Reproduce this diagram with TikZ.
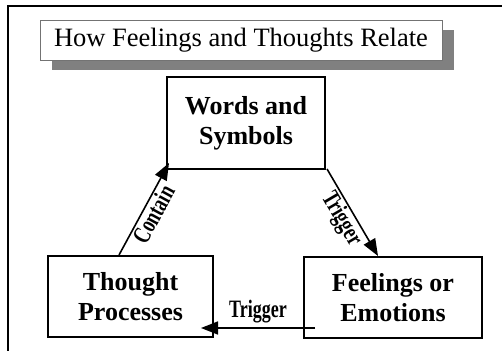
\documentclass[tikz,border=0pt]{standalone}
\usepackage{fontspec}
\setmainfont{Liberation Serif}
\usetikzlibrary{arrows.meta}
\newcommand{\condtxt}[1]{\scalebox{0.72}[1]{#1}}
\tikzset{
  box/.style={draw, line width=2pt, fill=white, align=center, inner sep=0pt,
    font=\fontsize{26}{30}\selectfont\bfseries},
  arr/.style={line width=1.6pt, -{Triangle[length=17pt,width=13pt]}},
  lab/.style={font=\fontsize{25}{27}\selectfont\bfseries, inner sep=1pt},
}
\begin{document}
\begin{tikzpicture}[x=1pt,y=-1pt]
\useasboundingbox (0,0) rectangle (502,350);
% frame
\draw[line width=2pt] (8,351) -- (8,6) -- (503,6);
% title with shadow
\fill[black!50] (52,30) rectangle (454,70);
\node[draw=black!55, line width=0.8pt, fill=white, minimum width=402pt, minimum height=40pt,
  inner sep=0pt, font=\fontsize{26.5}{30}\selectfont] (title) at (241,40) {How Feelings and Thoughts Relate};
% boxes
\node[box, minimum width=158pt, minimum height=92pt] (words) at (246,123) {Words and\\Symbols};
\node[box, minimum width=165pt, minimum height=81pt] (thought) at (130.5,296.5) {Thought\\Processes};
\node[box, minimum width=178pt, minimum height=81pt] (feel) at (393,297.5) {Feelings or\\Emotions};
% arrows
\draw[arr] ([xshift=72pt]thought.north west) -- node[lab, sloped, below=0pt] (l1) {\condtxt{Contain}} ([xshift=3pt,yshift=7pt]words.south west);
\draw[arr] ([xshift=1pt,yshift=1pt]words.south east) -- node[lab, sloped, below=0pt] (l2) {\condtxt{Trigger}} ([xshift=75pt]feel.north west);
\draw[arr] ([xshift=12pt,yshift=11pt]feel.south west) -- node[lab, above=3pt] (l3) {\condtxt{Trigger}} ([xshift=-13pt,yshift=10pt]thought.south east);
\end{tikzpicture}
\end{document}
